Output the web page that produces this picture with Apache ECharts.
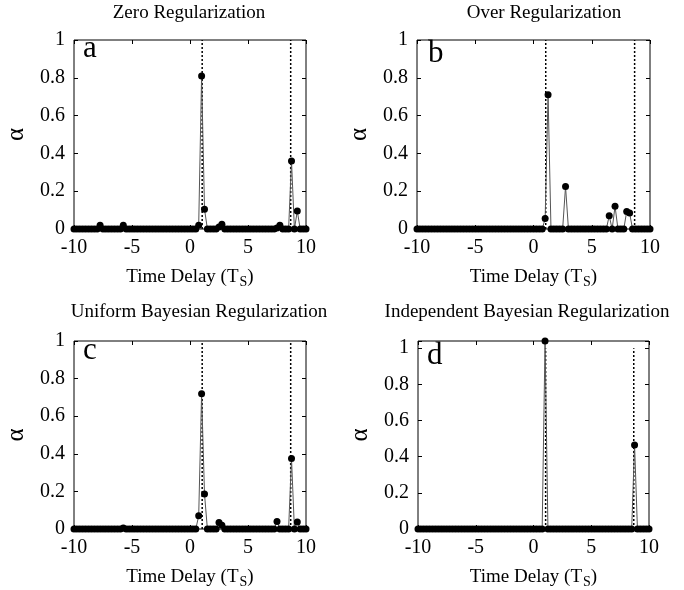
<!DOCTYPE html>
<html>
<head>
<meta charset="utf-8">
<script src="https://cdn.jsdelivr.net/npm/echarts@6/dist/echarts.min.js"></script>
<style>
  html, body { margin: 0; padding: 0; background: #fff; }
  #chart { width: 684px; height: 590px; }
</style>
</head>
<body>
<div id="chart"></div>
<script>
// delay grid (in units of Ts), 0.25 apart
const delays = [
  -10, -9.75, -9.5, -9.25, -9, -8.75, -8.5, -8.25, -8, -7.75,
  -7.5, -7.25, -7, -6.75, -6.5, -6.25, -6, -5.75, -5.5, -5.25,
  -5, -4.75, -4.5, -4.25, -4, -3.75, -3.5, -3.25, -3, -2.75,
  -2.5, -2.25, -2, -1.75, -1.5, -1.25, -1, -0.75, -0.5, -0.25,
  0, 0.25, 0.5, 0.75, 1, 1.25, 1.5, 1.75, 2, 2.25,
  2.5, 2.75, 3, 3.25, 3.5, 3.75, 4, 4.25, 4.5, 4.75,
  5, 5.25, 5.5, 5.75, 6, 6.25, 6.5, 6.75, 7, 7.25,
  7.5, 7.75, 8, 8.25, 8.5, 8.75, 9, 9.25, 9.5, 9.75,
  10
];

const zeroReg = [
  0, 0, 0, 0, 0, 0, 0, 0, 0, 0.02,
  0, 0, 0, 0, 0, 0, 0, 0.02, 0, 0,
  0, 0, 0, 0, 0, 0, 0, 0, 0, 0,
  0, 0, 0, 0, 0, 0, 0, 0, 0, 0,
  0, 0, 0, 0.02, 0.81, 0.105, 0, 0, 0, 0,
  0.01, 0.025, 0, 0, 0, 0, 0, 0, 0, 0,
  0, 0, 0, 0, 0, 0, 0, 0, 0, 0,
  0.005, 0.02, 0, 0, 0, 0.36, 0, 0.095, 0, 0,
  0
];

const overReg = [
  0, 0, 0, 0, 0, 0, 0, 0, 0, 0,
  0, 0, 0, 0, 0, 0, 0, 0, 0, 0,
  0, 0, 0, 0, 0, 0, 0, 0, 0, 0,
  0, 0, 0, 0, 0, 0, 0, 0, 0, 0,
  0, 0, 0, 0, 0.055, 0.71, 0, 0, 0, 0,
  0, 0.225, 0, 0, 0, 0, 0, 0, 0, 0,
  0, 0, 0, 0, 0, 0, 0.07, 0, 0.12, 0,
  0, 0, 0.093, 0.085, 0, 0, 0, 0, 0, 0,
  0
];

const uniformReg = [
  0, 0, 0, 0, 0, 0, 0, 0, 0, 0,
  0, 0, 0, 0, 0, 0, 0, 0.005, 0, 0,
  0, 0, 0, 0, 0, 0, 0, 0, 0, 0,
  0, 0, 0, 0, 0, 0, 0, 0, 0, 0,
  0, 0, 0, 0.07, 0.72, 0.186, 0, 0, 0, 0,
  0.035, 0.02, 0, 0, 0, 0, 0, 0, 0, 0,
  0, 0, 0, 0, 0, 0, 0, 0, 0, 0,
  0.04, 0, 0, 0, 0, 0.375, 0, 0.037, 0, 0,
  0
];

const independentReg = [
  0, 0, 0, 0, 0, 0, 0, 0, 0, 0,
  0, 0, 0, 0, 0, 0, 0, 0, 0, 0,
  0, 0, 0, 0, 0, 0, 0, 0, 0, 0,
  0, 0, 0, 0, 0, 0, 0, 0, 0, 0,
  0, 0, 0, 0, 1.04, 0, 0, 0, 0, 0,
  0, 0, 0, 0, 0, 0, 0, 0, 0, 0,
  0, 0, 0, 0, 0, 0, 0, 0, 0, 0,
  0, 0, 0, 0, 0, 0.465, 0, 0, 0, 0,
  0
];

// true delays (dotted markers)
const trueDelays = [1.05, 8.68];

const panelTitles = [
  "Zero Regularization",
  "Over Regularization",
  "Uniform Bayesian Regularization",
  "Independent Bayesian Regularization"
];
const panelLetters = ["a", "b", "c", "d"];
const panelSeries = [zeroReg, overReg, uniformReg, independentReg];
const yMaxes = [1, 1, 1, 1.04];

const yTicks = [0, 0.2, 0.4, 0.6, 0.8, 1];

const FONT = "'Liberation Serif', 'DejaVu Serif', serif";

// layout of the four boxes
const boxes = [
  { left: 74, top: 40, width: 232, height: 189 },
  { left: 417, top: 40, width: 233, height: 189 },
  { left: 74, top: 341, width: 232, height: 189 },
  { left: 418, top: 341, width: 231, height: 189 }
];
const titlePos = [[189, 13], [544, 13], [199, 312], [527, 312]];
const letterPos = [[83, 49], [428, 54], [83, 351], [427, 356]];

const chart = echarts.init(document.getElementById("chart"));

const grids = [];
const xAxes = [];
const yAxes = [];
const series = [];
const graphics = [];

const tickStyle = { inside: true, length: 4, lineStyle: { color: "#000" } };

boxes.forEach((box, p) => {
  grids.push({
    left: box.left, top: box.top, width: box.width, height: box.height,
    show: true, borderColor: "#000", borderWidth: 1, backgroundColor: "transparent"
  });

  const yFmt = (v) => (yTicks.some((t) => Math.abs(t - v) < 1e-6) ? String(Math.round(v * 10) / 10) : "");

  // bottom x axis
  xAxes.push({
    gridIndex: p, type: "value", min: -10, max: 10, interval: 5,
    axisLine: { show: false, onZero: false },
    axisTick: tickStyle,
    splitLine: { show: false },
    axisLabel: { fontFamily: FONT, fontSize: 20, color: "#000", margin: 9 },
    name: "{n|Time Delay (T}{s|S}{n|)}",
    nameLocation: "middle",
    nameGap: 39,
    nameTextStyle: {
      rich: {
        n: { fontFamily: FONT, fontSize: 19, color: "#000", verticalAlign: "top", lineHeight: 24 },
        s: { fontFamily: FONT, fontSize: 14, color: "#000", verticalAlign: "top", lineHeight: 24, padding: [7, 0, 0, 1] }
      }
    }
  });
  // top x axis (ticks only)
  xAxes.push({
    gridIndex: p, type: "value", position: "top", min: -10, max: 10, interval: 5,
    axisLine: { show: false, onZero: false },
    axisTick: tickStyle,
    axisLabel: { show: false },
    splitLine: { show: false }
  });

  // left y axis
  yAxes.push({
    gridIndex: p, type: "value", position: "left", min: 0, max: yMaxes[p], interval: 0.2,
    axisLine: { show: false, onZero: false },
    axisTick: tickStyle,
    splitLine: { show: false },
    axisLabel: { fontFamily: FONT, fontSize: 20, color: "#000", margin: 9, formatter: yFmt },
    name: "α",
    nameLocation: "middle",
    nameRotate: 90,
    nameGap: 45,
    nameTextStyle: { fontFamily: FONT, fontSize: 25, color: "#000" }
  });
  // right y axis (ticks only)
  yAxes.push({
    gridIndex: p, type: "value", position: "right", min: 0, max: yMaxes[p], interval: 0.2,
    axisLine: { show: false, onZero: false },
    axisTick: tickStyle,
    axisLabel: { show: false },
    splitLine: { show: false }
  });

  const xi = p * 2;
  const yi = p * 2;

  trueDelays.forEach((d) => {
    series.push({
      type: "line", xAxisIndex: xi, yAxisIndex: yi,
      data: [[d, 0], [d, 1]],
      symbol: "none", silent: true, z: 1,
      lineStyle: { color: "#000", width: 1.5, type: [2, 2] }
    });
  });

  series.push({
    type: "line", xAxisIndex: xi, yAxisIndex: yi,
    data: delays.map((x, i) => [x, panelSeries[p][i]]),
    symbol: "circle", symbolSize: 7, z: 2,
    itemStyle: { color: "#000" },
    lineStyle: { color: "#555", width: 1 }
  });

  graphics.push({
    type: "text", x: titlePos[p][0], y: titlePos[p][1],
    style: {
      text: panelTitles[p], font: `19px ${FONT}`, fill: "#000",
      align: "center", verticalAlign: "middle"
    }
  });
  graphics.push({
    type: "text", x: letterPos[p][0], y: letterPos[p][1],
    style: {
      text: panelLetters[p], font: `31px ${FONT}`, fill: "#000",
      align: "left", verticalAlign: "middle"
    }
  });
});

chart.setOption({
  animation: false,
  grid: grids,
  xAxis: xAxes,
  yAxis: yAxes,
  series: series,
  graphic: graphics
});
</script>
</body>
</html>
